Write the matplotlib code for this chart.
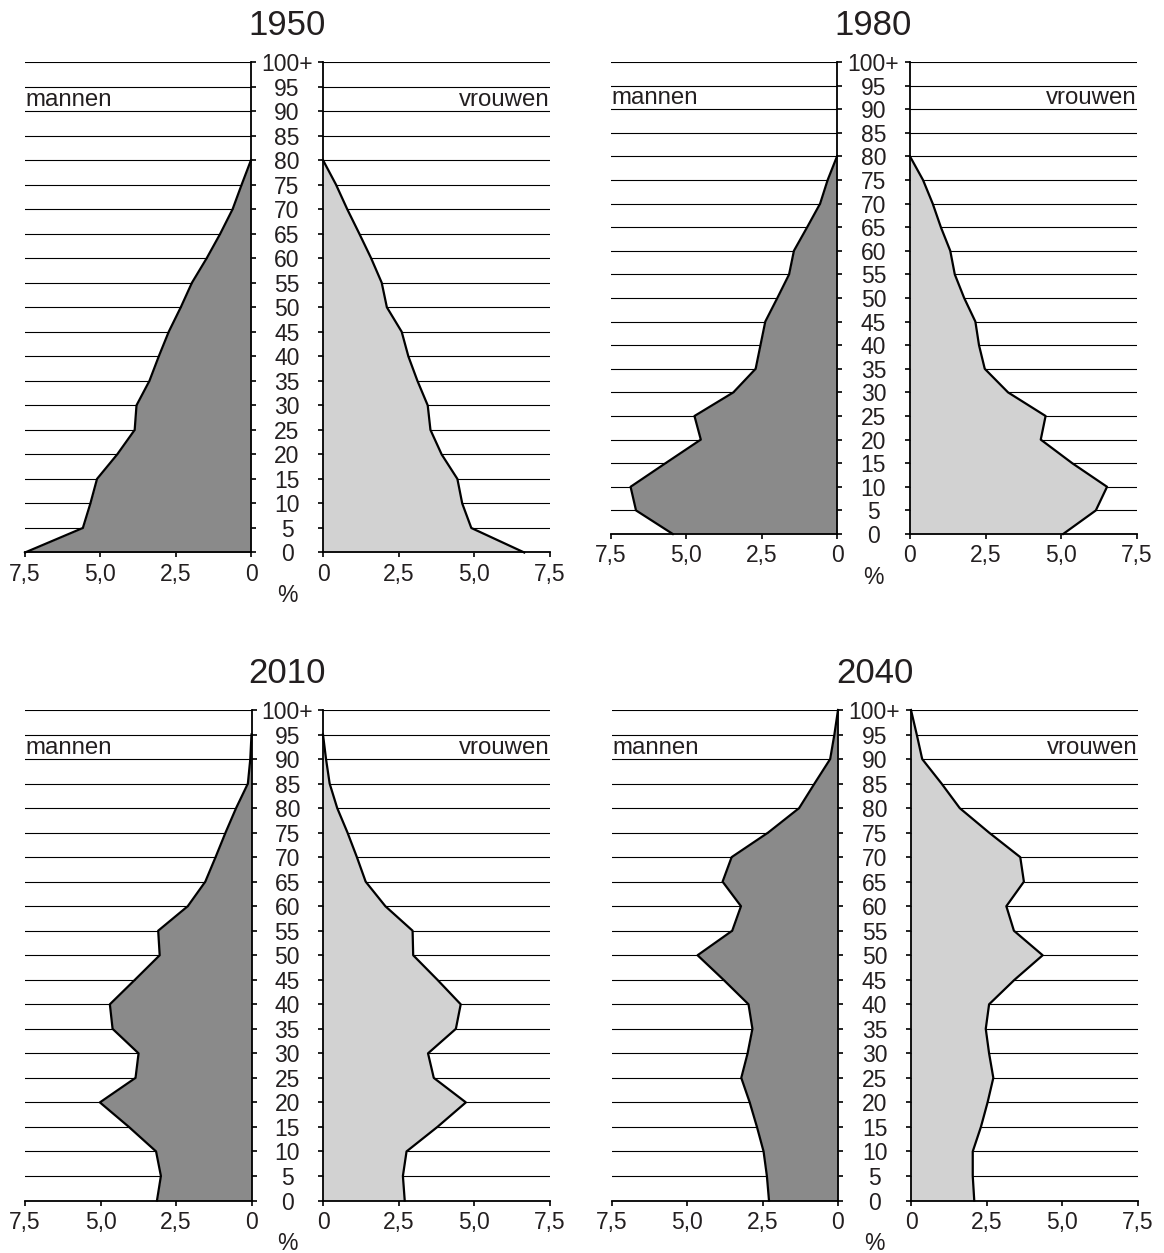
import matplotlib.pyplot as plt
import numpy as np

plt.rcParams['font.family'] = ['Liberation Sans', 'DejaVu Sans']

# ages at the band boundaries (0, 5, 10, ...)
ages_1950 = list(range(0, 85, 5))
men_1950 = [7.5, 5.58, 5.33, 5.11, 4.44, 3.86, 3.80, 3.37, 3.06, 2.73, 2.33, 1.96, 1.47, 1.02, 0.61, 0.31, 0]
women_1950 = [6.65, 4.90, 4.60, 4.44, 3.92, 3.55, 3.46, 3.12, 2.82, 2.60, 2.11, 1.94, 1.59, 1.20, 0.80, 0.43, 0]

ages_1980 = list(range(0, 85, 5))
men_1980 = [5.45, 6.67, 6.85, 5.69, 4.52, 4.73, 3.44, 2.70, 2.54, 2.38, 1.98, 1.59, 1.43, 0.99, 0.56, 0.31, 0]
women_1980 = [5.06, 6.14, 6.51, 5.36, 4.32, 4.48, 3.24, 2.47, 2.28, 2.16, 1.79, 1.48, 1.33, 1.02, 0.75, 0.43, 0]

ages_2010 = list(range(0, 100, 5))
men_2010 = [3.13, 3.00, 3.16, 4.06, 5.02, 3.84, 3.74, 4.60, 4.69, 3.86, 3.04, 3.09, 2.11, 1.53, 1.19, 0.86,
            0.51, 0.12, 0.04, 0]
women_2010 = [2.70, 2.64, 2.76, 3.78, 4.72, 3.66, 3.47, 4.39, 4.55, 3.78, 2.98, 2.96, 2.06, 1.41, 1.12, 0.81,
              0.47, 0.22, 0.10, 0]

ages_2040 = list(range(0, 105, 5))
men_2040 = [2.29, 2.36, 2.47, 2.69, 2.93, 3.21, 3.00, 2.84, 2.97, 3.80, 4.66, 3.51, 3.22, 3.83, 3.53, 2.32,
            1.29, 0.78, 0.26, 0.12, 0]
women_2040 = [2.09, 2.04, 2.04, 2.31, 2.53, 2.72, 2.58, 2.47, 2.58, 3.42, 4.35, 3.40, 3.15, 3.73, 3.61, 2.58,
              1.61, 1.01, 0.37, 0.19, 0]

age_ticks = list(range(0, 105, 5))
age_labels = [str(a) for a in age_ticks[:-1]] + ['100+']
pct_ticks = [0, 2.5, 5, 7.5]
pct_labels = ['0', '2,5', '5,0', '7,5']

W, H = 1164, 1253
TXT = '#231f20'
MEN_COLOR = '#8a8a8a'
WOMEN_COLOR = '#d2d2d2'
FS = 16.5

fig = plt.figure(figsize=(W / 100, H / 100), dpi=100)


def box(x0, x1, top, bottom):
    return [x0 / W, 1 - bottom / H, (x1 - x0) / W, (bottom - top) / H]


def style_axis(ax, side):
    ax.set_ylim(0, 100)
    ax.set_yticks(age_ticks)
    ax.set_xticks(pct_ticks)
    ax.set_xticklabels(pct_labels)
    for s in ['top', 'left', 'right']:
        ax.spines[s].set_visible(False)
    ax.spines[side].set_visible(True)
    for s in [side, 'bottom']:
        ax.spines[s].set_linewidth(1.3)
        ax.spines[s].set_color('black')
    ax.grid(axis='y', color='black', linewidth=0.8)
    ax.set_axisbelow(True)
    ax.tick_params(axis='both', direction='out', length=3.5, width=1.2, color='black',
                   labelsize=FS, labelcolor=TXT)
    ax.tick_params(axis='x', pad=4)


def draw_panel(year, ages, men, women, px):
    x0l, x1l, x0r, x1r, top, bottom = px
    axl = fig.add_axes(box(x0l, x1l, top, bottom))
    axr = fig.add_axes(box(x0r, x1r, top, bottom))

    axl.set_xlim(7.5, 0)
    axr.set_xlim(0, 7.5)
    style_axis(axl, 'right')
    style_axis(axr, 'left')

    axl.fill_betweenx(ages, 0, men, color=MEN_COLOR, linewidth=0, zorder=2)
    axl.plot(men, ages, color='black', linewidth=1.6, zorder=3, clip_on=False)
    axr.fill_betweenx(ages, 0, women, color=WOMEN_COLOR, linewidth=0, zorder=2)
    axr.plot(women, ages, color='black', linewidth=1.6, zorder=3, clip_on=False)

    # age labels centred between the two halves
    gap_pt = ((x0r - x1l) / 2) * 72 / 100
    axl.yaxis.tick_right()
    axl.set_yticklabels(age_labels)
    for lbl in axl.get_yticklabels():
        lbl.set_horizontalalignment('center')
    axl.tick_params(axis='y', pad=gap_pt - 3.5)
    axr.yaxis.tick_left()
    axr.set_yticklabels([])

    axl.text(7.5, 91, 'mannen', ha='left', va='baseline', fontsize=17.3, color=TXT)
    axr.text(7.5, 91, 'vrouwen', ha='right', va='baseline', fontsize=17.3, color=TXT)

    cx = (x1l + x0r) / 2 / W
    fig.text(cx, 1 - (top - 27) / H, year, ha='center', va='baseline', fontsize=25, color=TXT)
    fig.text(cx, 1 - (bottom + 43) / H, '%', ha='center', va='center', fontsize=FS, color=TXT)


draw_panel('1950', ages_1950, men_1950, women_1950, (25, 251, 323, 550, 62, 552.5))
draw_panel('1980', ages_1980, men_1980, women_1980, (611, 837, 910, 1137, 62, 534))
draw_panel('2010', ages_2010, men_2010, women_2010, (25, 251.5, 323, 550, 710, 1200.5))
draw_panel('2040', ages_2040, men_2040, women_2040, (612, 838, 911, 1138, 710, 1200.5))

fig.savefig('out.png', dpi=100, facecolor='white')
